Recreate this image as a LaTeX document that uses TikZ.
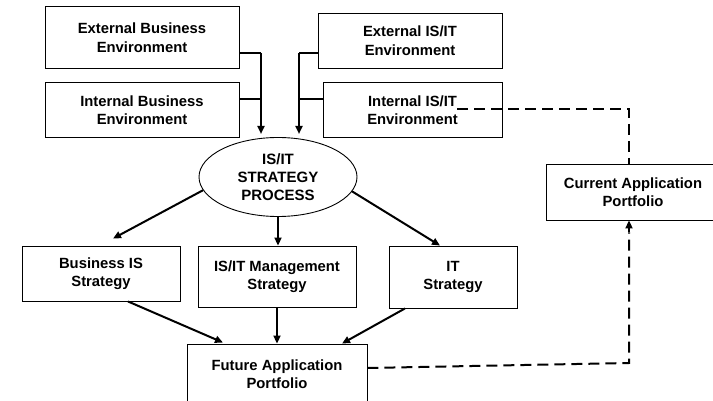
\documentclass[tikz,border=0pt]{standalone}
\usepackage{fontspec}
\setmainfont{Liberation Sans}
\usetikzlibrary{arrows.meta,shapes.geometric,calc}

\tikzset{
  box/.style={draw=black, line width=0.9pt, rectangle, align=center, inner sep=0pt,
    font=\fontsize{14.8}{18.5}\selectfont\bfseries},
  proc/.style={draw=black, line width=0.9pt, ellipse, align=center, inner sep=0pt,
    font=\fontsize{15}{18}\selectfont\bfseries},
  feed/.style={line width=2.6pt},
  flow/.style={line width=2pt, -{Triangle[length=8pt,width=7pt]}},
  link/.style={line width=2pt, dash pattern=on 11pt off 6pt},
}

\begin{document}
\begin{tikzpicture}[x=1pt, y=-1pt]
\useasboundingbox (0,0) rectangle (713,401);
\clip (0,0) rectangle (713,401);

% environment boxes
\node[box, minimum width=194pt, minimum height=62pt] (extbus) at (142,37.5) {External Business\\Environment};
\node[box, minimum width=194pt, minimum height=55pt] (intbus) at (142,110) {Internal Business\\Environment};
\node[box, minimum width=184pt, minimum height=55pt] (extit) at (410,40.5) {External IS/IT\\Environment};
\node[box, minimum width=179pt, minimum height=55pt] (intit) at (412.5,110) {Internal IS/IT\\Environment};

% central process
\node[proc, minimum width=158pt, minimum height=79pt] (proc) at (278,177) {IS/IT\\STRATEGY\\PROCESS};

% strategies
\node[box, minimum width=158pt, minimum height=55pt] (busis) at (101,273.5) {Business IS\\Strategy};
\node[box, minimum width=158pt, minimum height=61pt] (mgmt) at (277,276.5) {IS/IT Management\\Strategy};
\node[box, minimum width=128pt, minimum height=62pt] (itstr) at (453,277) {IT\\Strategy};

% portfolios
\node[box, minimum width=180pt, minimum height=60pt] (future) at (277,374) {Future Application\\Portfolio};
\node[box, minimum width=174pt, minimum height=56pt] (current) at (633,192) {Current Application\\Portfolio};

% merge points of the environment feeds
\coordinate (jl1) at (261,53);
\coordinate (jl2) at (261,99);
\coordinate (jlend) at (261,134);
\coordinate (jr1) at (299,53);
\coordinate (jr2) at (299,99);
\coordinate (jrend) at (299,134);

\draw[feed] (extbus.east |- jl1) -- (jl1);
\draw[feed] (intbus.east |- jl2) -- (jl2);
\draw[feed] (extit.west |- jr1) -- (jr1);
\draw[feed] (intit.west |- jr2) -- (jr2);
\draw[flow] (jl1) -- (jlend);
\draw[flow] (jr1) -- (jrend);

% process to strategies
\draw[flow] (proc.190) -- ($(busis.north)+(12,-7)$);
\draw[flow] (proc.south) -- (proc.south |- mgmt.north);
\draw[flow] (proc.-11) -- ($(itstr.north)+(-13,0)$);

% strategies to future portfolio
\draw[flow] ($(busis.south)+(27,0)$) -- ($(future.north)+(-54,-1)$);
\draw[flow] (mgmt.south) -- (mgmt.south |- future.north);
\draw[flow] ($(itstr.south)+(-48,0)$) -- ($(future.north)+(65,0)$);

% dashed links with the current portfolio
\coordinate (d1) at (457,109);
\coordinate (d2) at (629,109);
\coordinate (d3) at (629,363);
\draw[link] (d1) -- (d2) -- (d2 |- current.north);
\draw[link] ($(future.east)+(0,-6)$) -- (d3) -- ($(d3 |- current.south)+(0,12)$);
\draw[flow] ($(d3 |- current.south)+(0,12)$) -- (d3 |- current.south);
\end{tikzpicture}
\end{document}
